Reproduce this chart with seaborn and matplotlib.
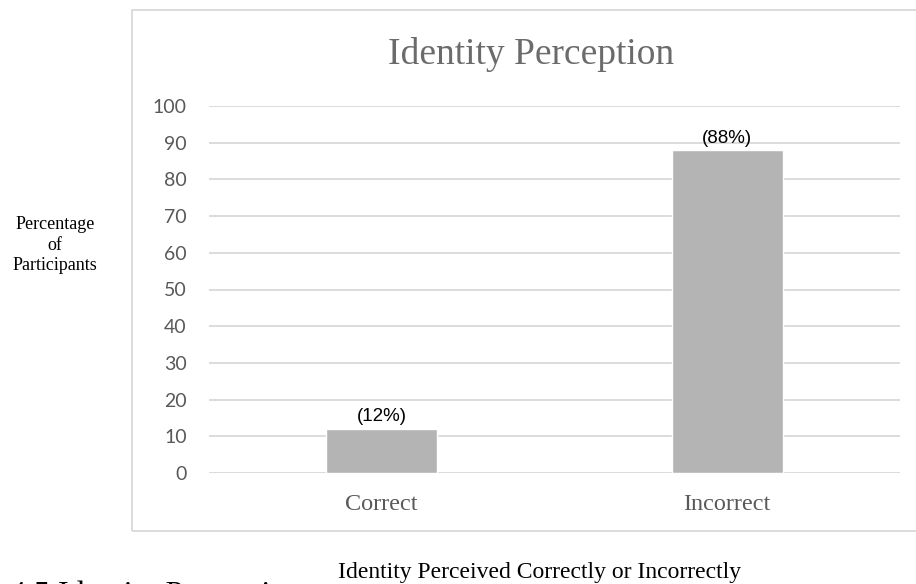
import matplotlib
matplotlib.use("Agg")
import matplotlib.pyplot as plt
import seaborn as sns
import pandas as pd
from matplotlib.patches import Rectangle

categories = ["Correct", "Incorrect"]
percentages = [12, 88]
y_ticks = [0, 10, 20, 30, 40, 50, 60, 70, 80, 90, 100]

sns.set_style("white")
plt.rcParams["font.family"] = ["Liberation Serif", "DejaVu Serif"]

W, H = 916, 584
fig = plt.figure(figsize=(W / 100, H / 100), dpi=100)

def fx(px):
    return px / W

def fy(py):
    return 1 - py / H

# outer chart frame (runs past the right edge of the page)
fig.patches.append(Rectangle((fx(132), fy(531)), fx(980) - fx(132), fy(10) - fy(531),
                             transform=fig.transFigure, fill=False,
                             edgecolor="#d9d9d9", linewidth=1.3))

ax = fig.add_axes([fx(209), fy(473), fx(900) - fx(209), fy(106) - fy(473)])

df = pd.DataFrame({"category": categories, "value": percentages})
sns.barplot(data=df, x="category", y="value", color="#b4b4b4", width=0.32,
            saturation=1, ax=ax, zorder=3)

ax.set_ylim(0, 100)
ax.set_yticks(y_ticks)
ax.set_yticklabels([str(t) for t in y_ticks], family="Lato", fontsize=14, color="#595959")
ax.tick_params(axis="y", length=0, pad=16)
ax.tick_params(axis="x", length=0, pad=15, labelsize=17.5, labelcolor="#595959")
ax.yaxis.grid(True, color="#d9d9d9", linewidth=1.3, zorder=0)
ax.xaxis.grid(False)
for s in ax.spines.values():
    s.set_visible(False)
ax.set_xlabel("")
ax.set_ylabel("")

for i, v in enumerate(percentages):
    ax.annotate(f"({v}%)", (i, v), xytext=(0, 2.5), textcoords="offset points",
                ha="center", va="bottom", family="Liberation Sans", fontsize=13.5,
                color="black")

fig.text(fx(531), fy(55), "Identity Perception", ha="center", va="center",
         fontsize=27, color="#6b6b6b")
fig.text(fx(55), fy(245), "Percentage\nof\nParticipants", ha="center", va="center",
         fontsize=13, color="black", linespacing=1.3)
fig.text(fx(539.5), fy(578), "Identity Perceived Correctly or Incorrectly",
         ha="center", va="baseline", fontsize=17, color="black")
fig.text(fx(10), fy(603), "4.5 Identity Perception", ha="left", va="baseline",
         fontsize=23, color="black")

fig.savefig("out.png", dpi=100)
